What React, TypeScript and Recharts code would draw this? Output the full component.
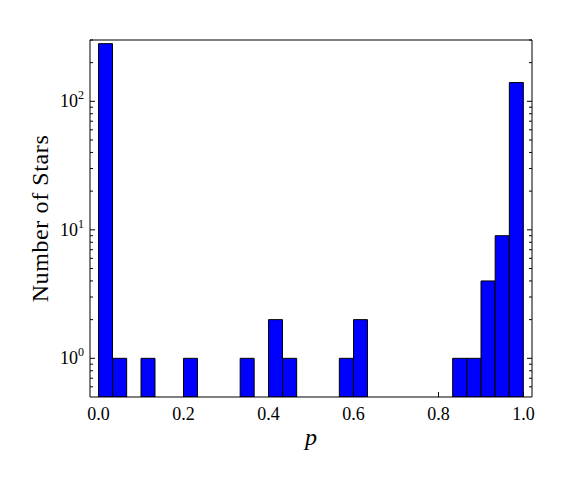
import { ComposedChart, Bar, XAxis, YAxis } from "recharts";

// 30 equal bins over p in [0, 1]
const binEdges = Array.from({ length: 31 }, (_, i) => i / 30);
const counts = [281, 1, 0, 1, 0, 0, 1, 0, 0, 0, 1, 0, 2, 1, 0, 0, 0, 1, 2, 0, 0, 0, 0, 0, 0, 1, 1, 4, 9, 140];
const xTicks = [0, 0.2, 0.4, 0.6, 0.8, 1.0];
const yMajorTicks = [1, 10, 100];
const yMinorTicks = [0.6, 0.7, 0.8, 0.9, 2, 3, 4, 5, 6, 7, 8, 9, 20, 30, 40, 50, 60, 70, 80, 90, 200, 300];
const yTicks = [...yMinorTicks, ...yMajorTicks].sort((a, b) => a - b);

const data = counts.map((c, i) => ({
  bin: i,
  mid: (binEdges[i] + binEdges[i + 1]) / 2,
  count: c > 0 ? c : null,
}));

const FONT = "'Liberation Serif', serif";
const xDomain = [-0.02, 1.02];
const yDomain = [0.5, 300];

const isMajor = (v: number) => yMajorTicks.includes(v);

// left: tick line drawn inward from the axis line, label only on decades
const LeftTick = (props: any) => {
  const { x, y, payload } = props;
  const major = isMajor(payload.value);
  const exp = Math.round(Math.log10(payload.value));
  return (
    <g>
      <line x1={x} x2={x + (major ? 5 : 3)} y1={y} y2={y} stroke="#000" />
      {major && (
        <text x={x - 6} y={y} dy={6} textAnchor="end" fontFamily={FONT} fontSize={18} fill="#000">
          10
          <tspan dy={-8} fontSize={12}>
            {exp}
          </tspan>
        </text>
      )}
    </g>
  );
};

const RightTick = (props: any) => {
  const { x, y, payload } = props;
  const major = isMajor(payload.value);
  return <line x1={x} x2={x - (major ? 5 : 3)} y1={y} y2={y} stroke="#000" />;
};

export default function App() {
  return (
    <div style={{ position: "absolute", left: 0, top: 0, background: "#fff" }}>
      <ComposedChart
        width={576}
        height={480}
        data={data}
        margin={{ top: 39, right: 43, bottom: 82, left: 89 }}
        barCategoryGap={0}
        barGap={0}
      >
        <XAxis
          xAxisId="num"
          dataKey="mid"
          type="number"
          domain={xDomain}
          allowDataOverflow
          ticks={xTicks}
          height={1}
          tickSize={-5}
          tickMargin={15}
          tickFormatter={(v: number) => v.toFixed(1)}
          tick={{ fill: "#000", fontSize: 18, fontFamily: FONT }}
          axisLine={{ stroke: "#000" }}
          tickLine={{ stroke: "#000" }}
          label={{ value: "p", position: "bottom", offset: 30, style: { fontFamily: FONT, fontSize: 24, fontStyle: "italic", fill: "#000" } }}
        />
        <XAxis
          xAxisId="top"
          dataKey="mid"
          orientation="top"
          type="number"
          domain={xDomain}
          allowDataOverflow
          ticks={xTicks}
          height={1}
          tickSize={-5}
          tick={false}
          axisLine={{ stroke: "#000" }}
          tickLine={{ stroke: "#000" }}
        />
        <XAxis xAxisId="cat" dataKey="bin" type="category" hide height={0} padding={{ left: 8.5, right: 8.5 }} />
        <YAxis
          yAxisId="left"
          scale="log"
          domain={yDomain}
          allowDataOverflow
          ticks={yTicks}
          interval={0}
          width={1}
          tickSize={0}
          tickMargin={0}
          tick={<LeftTick />}
          axisLine={{ stroke: "#000" }}
          tickLine={false}
          label={{
            value: "Number of Stars",
            angle: -90,
            position: "insideLeft",
            offset: -50,
            style: { textAnchor: "middle", fontFamily: FONT, fontSize: 24, letterSpacing: 0.6, fill: "#000" },
          }}
        />
        <YAxis
          yAxisId="right"
          orientation="right"
          scale="log"
          domain={yDomain}
          allowDataOverflow
          ticks={yTicks}
          interval={0}
          width={1}
          tickSize={0}
          tickMargin={0}
          tick={<RightTick />}
          axisLine={{ stroke: "#000" }}
          tickLine={false}
        />
        <Bar
          xAxisId="cat"
          yAxisId="left"
          dataKey="count"
          fill="#0000ff"
          stroke="#000"
          strokeWidth={1}
          isAnimationActive={false}
        />
      </ComposedChart>
    </div>
  );
}
